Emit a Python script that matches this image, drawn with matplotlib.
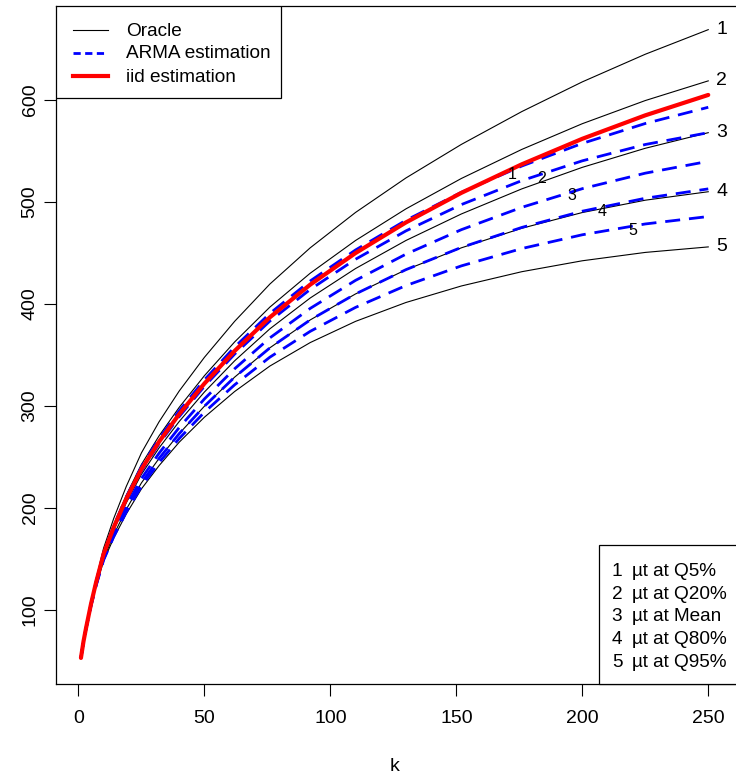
import numpy as np
import matplotlib
matplotlib.use('Agg')
import matplotlib.pyplot as plt
from matplotlib.patches import Rectangle

plt.rcParams['font.family'] = ['Liberation Sans', 'DejaVu Sans']

## values ##
k = [1, 2, 3, 5, 7, 10, 14, 19, 25, 32, 40, 50, 62, 76, 92, 110, 130, 152, 176, 200, 225, 250]

oracle = {
    1: [53, 69.2, 82.6, 107.8, 130.2, 160.7, 189.7, 221.2, 254.0, 284.5, 314.7, 347.7,
        383.0, 419.6, 455.1, 489.8, 523.6, 556.5, 588.7, 617.8, 644.9, 669.0],
    2: [53, 69.1, 82.2, 106.5, 128.0, 156.7, 183.6, 212.6, 242.7, 270.7, 298.7, 329.7,
        362.8, 397.0, 430.2, 462.3, 493.3, 523.1, 551.6, 576.8, 599.5, 618.8],
    3: [53, 68.9, 81.8, 105.4, 126.0, 153.2, 178.3, 205.1, 233.0, 258.9, 284.8, 313.7,
        344.3, 375.7, 405.9, 434.8, 462.3, 488.3, 512.9, 534.0, 552.7, 568.0],
    4: [53, 68.8, 81.5, 104.5, 124.3, 150.2, 173.7, 198.7, 224.6, 248.6, 272.9, 299.8,
        328.3, 357.1, 384.4, 409.9, 433.6, 455.1, 474.3, 489.7, 501.8, 510.1],
    5: [53, 68.7, 81.2, 103.8, 123.1, 148.1, 170.5, 194.2, 218.7, 241.5, 264.5, 289.0,
        314.2, 339.2, 362.2, 383.0, 401.5, 417.7, 431.7, 442.4, 450.6, 456.0],
}

arma = {
    1: [53, 69.0, 82.1, 106.3, 127.5, 155.8, 182.3, 210.8, 240.4, 267.9, 295.3, 325.6,
        357.8, 390.8, 422.6, 453.0, 482.1, 509.5, 535.3, 557.5, 577.0, 592.9],
    2: [53, 69.0, 81.9, 105.8, 126.7, 154.4, 180.1, 207.7, 236.3, 263.0, 289.6, 319.3,
        350.9, 383.3, 414.3, 443.9, 471.7, 497.5, 521.0, 540.4, 556.4, 568.0],
    3: [53, 68.9, 81.6, 105.0, 125.1, 151.7, 176.0, 201.9, 228.8, 253.7, 278.9, 306.9,
        336.5, 366.8, 395.7, 423.2, 448.9, 472.9, 494.8, 513.1, 528.3, 539.9],
    4: [53, 68.8, 81.5, 104.5, 124.3, 150.2, 173.7, 198.7, 224.6, 248.6, 272.9, 299.8,
        328.3, 357.0, 384.4, 409.9, 433.7, 455.5, 475.1, 491.0, 503.7, 512.9],
    5: [53, 68.7, 81.3, 104.1, 123.6, 149.0, 171.8, 196.1, 221.2, 244.5, 268.1, 293.9,
        320.8, 347.9, 373.2, 396.7, 418.1, 437.4, 454.4, 467.9, 478.5, 485.8],
}

iid = [53, 69, 82, 106, 127, 155, 181, 209, 238, 265, 292, 322,
       354, 387, 419, 450, 480, 509, 537, 562, 585, 605]

arma_label_k = [172, 184, 196, 208, 220]
quantiles = ['Q5%', 'Q20%', 'Mean', 'Q80%', 'Q95%']
legend_names = ['Oracle', 'ARMA estimation', 'iid estimation']

## Plotting ##
W, H = 736, 774
fig = plt.figure(figsize=(W / 100, H / 100), dpi=100)
left, right, top, bottom = 56, 740, 6, 684
ax = fig.add_axes([left / W, 1 - bottom / H, (right - left) / W, (bottom - top) / H])


def px(x, y):
    # figure pixel (from top-left) -> axes fraction
    return (x - left) / (right - left), (bottom - y) / (bottom - top)


black = dict(color='black', lw=0.8)
blue = dict(color='#0000FF', lw=2.0, dashes=(5.4, 3.2))
red = dict(color='#FF0000', lw=3.0, solid_capstyle='round')

for i in range(1, 6):
    ax.plot(k, oracle[i], **black)
for i in range(1, 6):
    ax.plot(k, arma[i], **blue)
ax.plot(k, iid, **red)

# curve numbers
for i in range(1, 6):
    ax.text(255.3, oracle[i][-1], str(i), fontsize=14, ha='center', va='center')
    yk = np.interp(arma_label_k[i - 1], k, arma[i])
    ax.text(arma_label_k[i - 1], yk - 4, str(i), fontsize=11.5, ha='center', va='center')

ax.set_xlim(-8.9, 262.6)
ax.set_ylim(27.45, 692.2)
ax.set_xticks([0, 50, 100, 150, 200, 250])
ax.set_yticks([100, 200, 300, 400, 500, 600])
ax.tick_params(axis='both', length=8.6, width=0.8, labelsize=14)
ax.tick_params(axis='x', pad=10)
ax.tick_params(axis='y', pad=4)
for lab in ax.get_yticklabels():
    lab.set_rotation(90)
    lab.set_va('center')
for sp in ax.spines.values():
    sp.set_linewidth(0.9)

fig.text(395 / W, 1 - 771 / H, 'k', fontsize=14, ha='center', va='baseline')

## legend top left, drawn by hand like R's legend() ##
x0, y0 = px(56, 98)
x1, y1 = px(281, 6)
ax.add_patch(Rectangle((x0, y0), x1 - x0, y1 - y0, transform=ax.transAxes,
                       facecolor='white', edgecolor='black', lw=0.9, zorder=5))
styles = [black, dict(color='#0000FF', lw=2.0, dashes=(2.6, 1.6)), dict(color='#FF0000', lw=3.0)]
for j, (name, st) in enumerate(zip(legend_names, styles)):
    yrow = 29.5 + 23 * j
    a, b = px(73, yrow)
    c, _ = px(108, yrow)
    ax.plot([a, c], [b, b], transform=ax.transAxes, zorder=6, **st)
    tx, ty = px(126, yrow + 6)
    ax.text(tx, ty, name, transform=ax.transAxes, fontsize=13.7, va='baseline', zorder=6)

## legend bottom right ##
x0, y0 = px(599, 684)
x1, y1 = px(745, 545)
ax.add_patch(Rectangle((x0, y0), x1 - x0, y1 - y0, transform=ax.transAxes,
                       facecolor='white', edgecolor='black', lw=0.9, zorder=5, clip_on=False))
for j, q in enumerate(quantiles):
    yb = 576 + 22.7 * j
    nx, ny = px(617, yb)
    ax.text(nx, ny, str(j + 1), transform=ax.transAxes, fontsize=13.7, ha='center',
            va='baseline', zorder=6)
    tx, _ = px(632, yb)
    ax.text(tx, ny, '\u00b5t at ' + q, transform=ax.transAxes, fontsize=13.7,
            va='baseline', zorder=6)

fig.savefig('out.png', dpi=100)
